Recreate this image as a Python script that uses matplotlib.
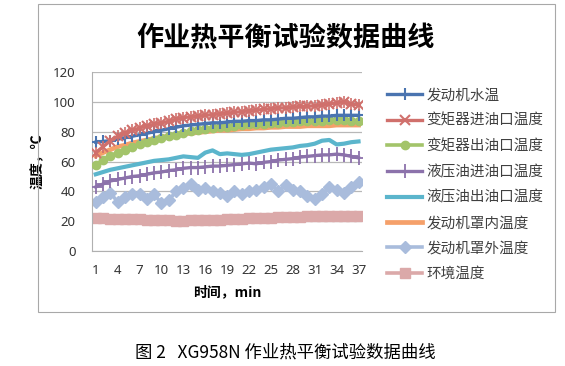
import matplotlib.pyplot as plt
from matplotlib.patches import Rectangle

plt.rcParams['font.family'] = ['Noto Sans CJK SC', 'DejaVu Sans']

minutes = list(range(1, 38))

water_temp = [73, 73.5, 74, 75, 76, 77, 78, 79, 80, 81, 82, 83, 84, 84.5, 85, 85.5, 86, 86,
              86.5, 87, 87, 87.5, 87.5, 88, 88, 88.5, 89, 89, 89.5, 90, 90, 90.5, 90.5, 91, 91, 91, 91]
tc_in = [66, 70, 74, 77, 79, 81, 82.5, 84, 85, 86, 87, 88.5, 89.5, 90, 90.5, 91, 91.5, 92,
         92.5, 93, 93.5, 94, 94.5, 95, 95.5, 96, 96, 96.5, 97, 97, 97.5, 98, 98.5, 99.5, 100, 98.5, 98]
tc_out = [58, 61, 64, 66, 68, 70, 71.5, 73, 74.5, 75.5, 77, 78, 79.5, 80.5, 81, 82, 82.5, 83,
          83.5, 84, 84.5, 85, 85, 85.5, 86, 86, 86.5, 86.5, 87, 87, 87.5, 87.5, 88, 88, 88, 87.5, 87.5]
hyd_in = [43, 45, 47, 48, 49, 50, 50.5, 51.5, 52.5, 53, 54, 54.5, 55.5, 56, 56, 56.5, 57, 57,
          57.5, 58, 58.5, 59, 58.5, 59.5, 60, 61, 61.5, 62, 63, 63.5, 64, 64.5, 64.5, 65, 64.5, 63.5, 62.5]
hyd_out = [51.5, 53, 54.5, 55.5, 56.5, 57.5, 58.5, 59.5, 60.5, 61, 61.5, 62.5, 63.5, 63, 62.5, 66, 67.5, 65,
           65.5, 65, 64.5, 65, 66, 67, 68, 68.5, 69, 69.5, 70.5, 71, 72, 74, 74.5, 71.5, 72, 73, 73.5]
hood_in = [64, 66, 68, 70, 71, 72.5, 73.5, 74.5, 75.5, 76.5, 77, 78, 78.5, 79, 79.5, 80, 80.5, 81,
           81, 81.5, 82, 82, 82.5, 82.5, 83, 83, 83.5, 83.5, 83.5, 84, 84, 84, 84, 84.5, 84.5, 84.5, 84.5]
hood_out = [33, 36, 39, 33, 36, 38, 38, 35, 38, 32, 34, 40, 42, 45, 41, 42, 40, 39,
            37, 40, 38, 40, 41, 43, 45, 40, 44, 41, 40, 37, 35, 38, 43, 41, 39, 43, 46]
ambient = [22, 22, 21.8, 21.6, 21.5, 21.3, 21.2, 21, 20.8, 20.7, 20.6, 20.5, 20.5, 20.6, 20.7, 20.8, 21, 21.1,
           21.3, 21.5, 21.7, 21.9, 22, 22.2, 22.4, 22.6, 22.8, 23, 23.1, 23.2, 23.3, 23.4, 23.5, 23.5, 23.6, 23.6, 23.7]

labels = ['发动机水温', '变矩器进油口温度', '变矩器出油口温度', '液压油进油口温度',
          '液压油出油口温度', '发动机罩内温度', '发动机罩外温度', '环境温度']
x_ticks = list(range(1, 38, 3))

fig = plt.figure(figsize=(5.65, 3.66), dpi=100)
ax = fig.add_axes([0.163, 0.314, 0.478, 0.489])

ax.plot(minutes, water_temp, color='#4a74b0', lw=2.4, marker='+', ms=9, mew=1.5, label=labels[0], zorder=5)
ax.plot(minutes, tc_in, color='#d0706c', lw=2.4, marker='x', ms=7, mew=1.5, label=labels[1], zorder=6)
ax.plot(minutes, tc_in, color='#d0706c', lw=0, marker='|', ms=8, mew=1.2, zorder=6)
ax.plot(minutes, tc_out, color='#a3c46a', lw=2.6, marker='o', ms=6, label=labels[2], zorder=4)
ax.plot(minutes, hyd_in, color='#8c72ab', lw=2.4, marker='+', ms=10, mew=1.3, label=labels[3], zorder=4)
ax.plot(minutes, hyd_out, color='#5bb5cc', lw=3, label=labels[4], zorder=3)
ax.plot(minutes, hood_in, color='#f5a06a', lw=3.4, label=labels[5], zorder=3)
ax.plot(minutes, hood_out, color='#a9bcdc', lw=2.6, marker='D', ms=6.5, label=labels[6], zorder=2)
ax.plot(minutes, ambient, color='#dba9a9', lw=2.6, marker='s', ms=7.5, label=labels[7], zorder=2)

ax.set_xlim(0.5, 37.5)
ax.set_ylim(0, 120)
ax.set_yticks(range(0, 121, 20))
ax.set_xticks(x_ticks)
ax.tick_params(axis='y', labelsize=9.5, length=0, pad=12, colors='#333333')
ax.tick_params(axis='x', labelsize=9.5, length=0, pad=9, colors='#333333')
for lab in ax.get_xticklabels() + ax.get_yticklabels():
    lab.set_family(['Noto Sans', 'DejaVu Sans'])
ax.grid(axis='y', color='#b8b8b8', lw=0.9)
ax.set_axisbelow(True)
for side in ['top', 'right']:
    ax.spines[side].set_visible(False)
ax.spines['left'].set_color('#b0b0b0')
ax.spines['bottom'].set_color('#b0b0b0')

ax.set_ylabel('温度，℃', fontsize=10, fontweight='bold', labelpad=6)
ax.set_xlabel('时间，min', fontsize=10, fontweight='bold', labelpad=6)

fig.text(0.505, 0.895, '作业热平衡试验数据曲线', ha='center', va='center', fontsize=19.5, fontweight='bold')

leg = fig.legend(loc='upper left', bbox_to_anchor=(0.675, 0.775), frameon=False, fontsize=10.5,
                 handlelength=2.4, labelspacing=0.78, handletextpad=0.3, borderaxespad=0)
for t in leg.get_texts():
    t.set_color('#404040')

fig.add_artist(Rectangle((0.068, 0.148), 0.915, 0.84, transform=fig.transFigure,
                         fill=False, edgecolor='#a8a8a8', lw=0.8))

fig.text(0.505, 0.038, '图 2   XG958N 作业热平衡试验数据曲线', ha='center', va='center', fontsize=12.5)

fig.savefig('out.png', dpi=100)
